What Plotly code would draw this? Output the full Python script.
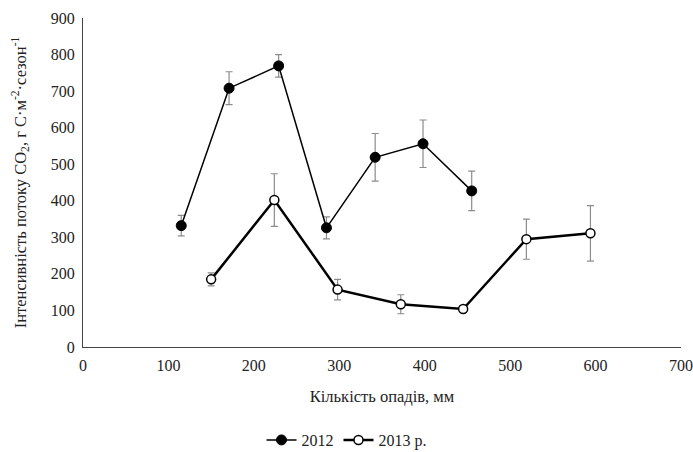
import plotly.graph_objects as go

x2012 = [115, 171, 229, 285, 342, 398, 455]
y2012 = [332, 708, 769, 326, 519, 556, 427]
e2012 = [28, 45, 31, 30, 65, 65, 54]

x2013 = [150, 224, 298, 372, 445, 519, 594]
y2013 = [185, 402, 157, 117, 104, 295, 311]
e2013 = [18, 72, 28, 26, 8, 55, 76]

font = "Liberation Serif"

fig = go.Figure()
fig.add_trace(go.Scatter(
    x=x2012, y=y2012, name="2012", mode="lines+markers",
    line=dict(color="black", width=1.5),
    marker=dict(color="black", size=10, line=dict(color="black", width=1)),
    error_y=dict(type="data", array=e2012, color="#8c8c8c", thickness=1.2, width=3.5),
))
fig.add_trace(go.Scatter(
    x=x2013, y=y2013, name="2013 р.", mode="lines+markers",
    line=dict(color="black", width=2.5),
    marker=dict(color="white", size=9, line=dict(color="black", width=1.5)),
    error_y=dict(type="data", array=e2013, color="#8c8c8c", thickness=1.2, width=3.5),
))

fig.update_layout(
    width=693, height=452,
    margin=dict(l=83, r=12, t=18, b=105),
    paper_bgcolor="white", plot_bgcolor="white",
    font=dict(family=font, size=16, color="#222"),
    showlegend=True,
    legend=dict(orientation="h", x=0.5, xanchor="center", xref="container",
                y=0.0265, yanchor="middle", yref="container",
                font=dict(family=font, size=16), itemwidth=30, tracegroupgap=0),
    xaxis=dict(range=[0, 700], dtick=100, showgrid=False, zeroline=False,
               showline=True, linecolor="#444", linewidth=1, ticks="", automargin=False,
               ticklabelstandoff=4,
               title=dict(text="Кількість опадів, мм", standoff=17,
                          font=dict(family=font, size=16.5))),
    yaxis=dict(range=[0, 900], dtick=100, showgrid=False, zeroline=False,
               showline=True, linecolor="#444", linewidth=1, ticks="", automargin=False,
               ticklabelstandoff=4,
               title=dict(text="Інтенсивність потоку CO<sub>2</sub>, г С·м<sup>-2</sup>·сезон<sup>-1</sup>",
                          standoff=20, font=dict(family=font, size=16.5))),
)

fig.write_html("out.html")
